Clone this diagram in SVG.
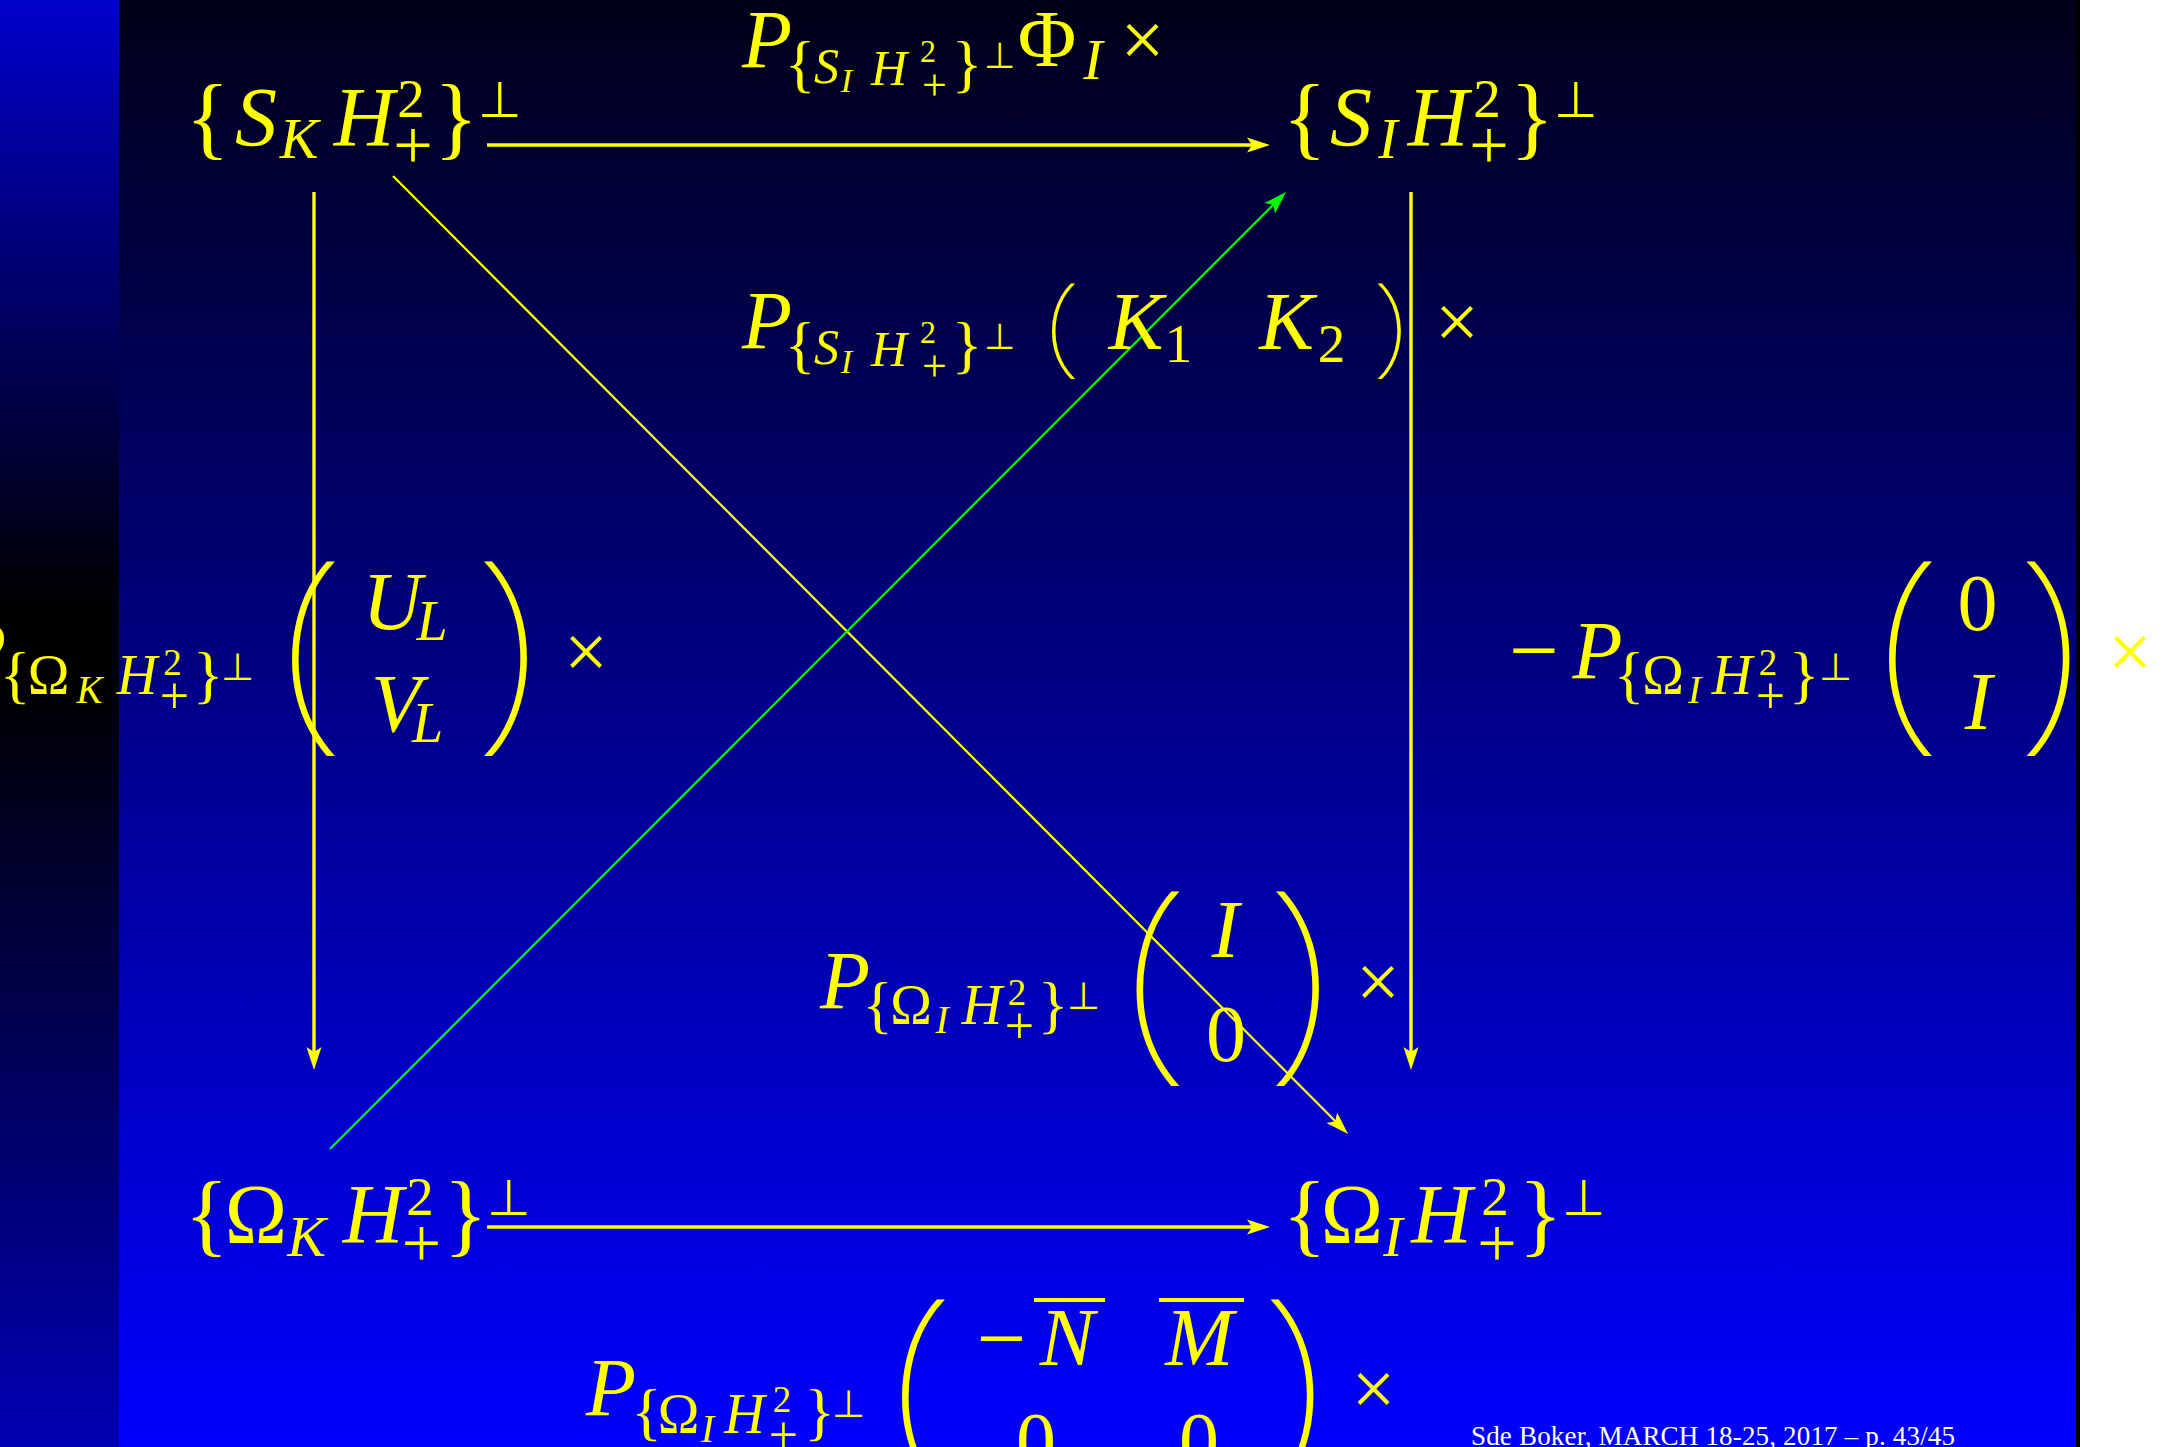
<svg xmlns="http://www.w3.org/2000/svg" width="2172" height="1447" viewBox="0 0 2172 1447">
<defs>
<linearGradient id="gMain" x1="0" y1="0" x2="0" y2="1">
<stop offset="0" stop-color="#000018"/>
<stop offset="1" stop-color="#0000ff"/>
</linearGradient>
<linearGradient id="gStrip" x1="0" y1="0" x2="0" y2="1">
<stop offset="0" stop-color="#0000cc"/>
<stop offset="0.42" stop-color="#000000"/>
<stop offset="0.47" stop-color="#000000"/>
<stop offset="1" stop-color="#0000b4"/>
</linearGradient>
<marker id="ay" viewBox="-16 -9 26 18" markerWidth="26" markerHeight="18" refX="0" refY="0" orient="auto" markerUnits="userSpaceOnUse">
<path d="M8,0 L-15,-7.5 L-10,0 L-15,7.5 Z" fill="#ffff00"/>
</marker>
<marker id="ag" viewBox="-16 -9 26 18" markerWidth="26" markerHeight="18" refX="0" refY="0" orient="auto" markerUnits="userSpaceOnUse">
<path d="M8,0 L-15,-7.5 L-10,0 L-15,7.5 Z" fill="#00ff00"/>
</marker>
<style>
text { text-anchor: middle; fill: #ffff00; font-family: "Liberation Serif", serif; }
.it { font-style: italic; }
.sym { font-family: "DejaVu Sans", sans-serif; font-weight: 200; }
.bp { font-family: "Noto Sans", "Inter", sans-serif; font-weight: 100; font-size: 100px; }
.ln { stroke: #ffff00; stroke-width: 3.4; fill: none; marker-end: url(#ay); }
.dg { stroke: #ffff00; stroke-width: 2.2; fill: none; marker-end: url(#ay); }
.gr { stroke: #00ff00; stroke-width: 2.2; fill: none; marker-end: url(#ag); }
.foot { fill: #ffffff; font-size: 27px; text-anchor: start; }
</style>
</defs>

<g id="background">
<rect x="0" y="0" width="2172" height="1447" fill="#ffffff"/>
<rect x="119" y="0" width="1958" height="1447" fill="url(#gMain)"/>
<rect x="0" y="0" width="119" height="1447" fill="url(#gStrip)"/>
<rect x="2076" y="0" width="4" height="1447" fill="#000000"/>
</g>

<g id="connectors">
<path class="ln" d="M487,145 H1262"/>
<path class="ln" d="M487,1227 H1262"/>
<path class="ln" d="M314,192 V1062"/>
<path class="ln" d="M1411,192 V1062"/>
<path class="dg" d="M393,176 L1342.4,1128.3"/>
<path class="gr" d="M330,1149 L1280.3,197.7"/>
</g>

<g id="node-SK">
<text>
<tspan x="209.5" y="148" font-size="92">{</tspan>
<tspan class="it" x="258" y="146" font-size="84">S</tspan>
<tspan class="it" x="301" y="158" font-size="58">K</tspan>
<tspan class="it" x="366" y="146" font-size="84">H</tspan>
<tspan x="413" y="117" font-size="55">2</tspan>
<tspan x="415" y="169" font-size="70">+</tspan>
<tspan x="458" y="148" font-size="92">}</tspan>
<tspan class="sym" x="500" y="117" font-size="50">⊥</tspan>
</text>
</g>

<g id="node-SI">
<text>
<tspan x="1306.5" y="148" font-size="92">{</tspan>
<tspan class="it" x="1353" y="146" font-size="84">S</tspan>
<tspan class="it" x="1390" y="158" font-size="58">I</tspan>
<tspan class="it" x="1440" y="146" font-size="84">H</tspan>
<tspan x="1489" y="117" font-size="55">2</tspan>
<tspan x="1491" y="169" font-size="70">+</tspan>
<tspan x="1534" y="148" font-size="92">}</tspan>
<tspan class="sym" x="1576" y="117" font-size="50">⊥</tspan>
</text>
</g>

<g id="node-OmegaK">
<text>
<tspan x="208.5" y="1245" font-size="92">{</tspan>
<tspan x="258" y="1243" font-size="84">Ω</tspan>
<tspan class="it" x="308.5" y="1256" font-size="58">K</tspan>
<tspan class="it" x="375" y="1243" font-size="84">H</tspan>
<tspan x="422" y="1215" font-size="55">2</tspan>
<tspan x="423.5" y="1267" font-size="70">+</tspan>
<tspan x="467.5" y="1245" font-size="92">}</tspan>
<tspan class="sym" x="509" y="1215" font-size="50">⊥</tspan>
</text>
</g>

<g id="node-OmegaI">
<text>
<tspan x="1306.5" y="1245" font-size="92">{</tspan>
<tspan x="1354" y="1243" font-size="84">Ω</tspan>
<tspan class="it" x="1395" y="1256" font-size="58">I</tspan>
<tspan class="it" x="1443.5" y="1243" font-size="84">H</tspan>
<tspan x="1497" y="1215" font-size="55">2</tspan>
<tspan x="1499" y="1267" font-size="70">+</tspan>
<tspan x="1542.5" y="1245" font-size="92">}</tspan>
<tspan class="sym" x="1583.5" y="1215" font-size="50">⊥</tspan>
</text>
</g>

<g id="label-top">
<text>
<tspan class="it" x="769" y="67" font-size="82">P</tspan>
<tspan x="802" y="85" font-size="64">{</tspan>
<tspan class="it" x="828.5" y="83" font-size="50">S</tspan>
<tspan class="it" x="848.5" y="92" font-size="34">I</tspan>
<tspan class="it" x="891" y="85" font-size="50">H</tspan>
<tspan x="930" y="62" font-size="32">2</tspan>
<tspan x="936.5" y="100" font-size="44">+</tspan>
<tspan x="969" y="85" font-size="64">}</tspan>
<tspan class="sym" x="1001" y="68" font-size="36">⊥</tspan>
<tspan x="1049" y="66" font-size="80">Φ</tspan>
<tspan class="it" x="1095" y="79" font-size="58">I</tspan>
<tspan x="1142.5" y="66" font-size="78">×</tspan>
</text>
</g>

<g id="label-mid">
<text>
<tspan class="it" x="769" y="348" font-size="82">P</tspan>
<tspan x="802" y="366" font-size="64">{</tspan>
<tspan class="it" x="828.5" y="364" font-size="50">S</tspan>
<tspan class="it" x="848.5" y="373" font-size="34">I</tspan>
<tspan class="it" x="891" y="366" font-size="50">H</tspan>
<tspan x="930" y="343" font-size="32">2</tspan>
<tspan x="936.5" y="381" font-size="44">+</tspan>
<tspan x="969" y="366" font-size="64">}</tspan>
<tspan class="sym" x="1001" y="349" font-size="36">⊥</tspan>
<tspan class="it" x="1138" y="349" font-size="82">K</tspan>
<tspan x="1180.5" y="362" font-size="55">1</tspan>
<tspan class="it" x="1288.5" y="349" font-size="82">K</tspan>
<tspan x="1333.5" y="362" font-size="55">2</tspan>
<tspan x="1457" y="348" font-size="78">×</tspan>
</text>
<text class="bp" transform="translate(1063,332) scale(1.3,1.1)" y="27">(</text>
<text class="bp" transform="translate(1389.5,332) scale(1.3,1.1)" y="27">)</text>
</g>

<g id="label-left">
<text>
<tspan class="it" x="-17" y="678" font-size="82">P</tspan>
<tspan x="17" y="696" font-size="64">{</tspan>
<tspan x="50.5" y="694" font-size="56">Ω</tspan>
<tspan class="it" x="91.5" y="703" font-size="39">K</tspan>
<tspan class="it" x="139" y="694" font-size="56">H</tspan>
<tspan x="174.5" y="675" font-size="37">2</tspan>
<tspan x="176.5" y="713" font-size="52">+</tspan>
<tspan x="210" y="696" font-size="64">}</tspan>
<tspan class="sym" x="239.5" y="680" font-size="38">⊥</tspan>
<tspan class="it" x="394" y="629" font-size="82">U</tspan>
<tspan class="it" x="434" y="640" font-size="56">L</tspan>
<tspan class="it" x="398" y="731" font-size="82">V</tspan>
<tspan class="it" x="429.5" y="742" font-size="56">L</tspan>
<tspan x="586" y="678" font-size="78">×</tspan>
</text>
<text class="bp" transform="translate(312.5,658) scale(2.4,2.22)" y="28.5">(</text>
<text class="bp" transform="translate(506,658) scale(2.4,2.22)" y="28.5">)</text>
</g>

<g id="label-right">
<text>
<tspan x="1536" y="680" font-size="88">−</tspan>
<tspan class="it" x="1599.5" y="678" font-size="82">P</tspan>
<tspan x="1631" y="696" font-size="64">{</tspan>
<tspan x="1665" y="694" font-size="56">Ω</tspan>
<tspan class="it" x="1696.5" y="703" font-size="39">I</tspan>
<tspan class="it" x="1734" y="694" font-size="56">H</tspan>
<tspan x="1770" y="675" font-size="37">2</tspan>
<tspan x="1772.5" y="713" font-size="52">+</tspan>
<tspan x="1806" y="696" font-size="64">}</tspan>
<tspan class="sym" x="1837" y="680" font-size="38">⊥</tspan>
<tspan x="1979.5" y="630" font-size="80">0</tspan>
<tspan class="it" x="1980.5" y="729" font-size="82">I</tspan>
<tspan x="2130" y="678" font-size="78">×</tspan>
</text>
<text class="bp" transform="translate(1909.5,658) scale(2.4,2.22)" y="28.5">(</text>
<text class="bp" transform="translate(2048.5,658) scale(2.4,2.22)" y="28.5">)</text>
</g>

<g id="label-lowmid">
<text>
<tspan class="it" x="847" y="1008" font-size="82">P</tspan>
<tspan x="879.5" y="1026" font-size="64">{</tspan>
<tspan x="913" y="1024" font-size="56">Ω</tspan>
<tspan class="it" x="944" y="1033" font-size="39">I</tspan>
<tspan class="it" x="984" y="1024" font-size="56">H</tspan>
<tspan x="1019" y="1005" font-size="37">2</tspan>
<tspan x="1021.5" y="1043" font-size="52">+</tspan>
<tspan x="1055" y="1026" font-size="64">}</tspan>
<tspan class="sym" x="1085" y="1009" font-size="38">⊥</tspan>
<tspan class="it" x="1227.5" y="957" font-size="82">I</tspan>
<tspan x="1228" y="1061" font-size="80">0</tspan>
<tspan x="1378" y="1008" font-size="78">×</tspan>
</text>
<text class="bp" transform="translate(1157,988) scale(2.4,2.22)" y="28.5">(</text>
<text class="bp" transform="translate(1298,988) scale(2.4,2.22)" y="28.5">)</text>
</g>

<g id="label-bottom">
<text>
<tspan class="it" x="613" y="1415" font-size="82">P</tspan>
<tspan x="648.5" y="1433" font-size="64">{</tspan>
<tspan x="680.5" y="1433" font-size="56">Ω</tspan>
<tspan class="it" x="709.5" y="1442" font-size="39">I</tspan>
<tspan class="it" x="746.5" y="1433" font-size="56">H</tspan>
<tspan x="784" y="1412" font-size="37">2</tspan>
<tspan x="785.5" y="1452" font-size="52">+</tspan>
<tspan x="821.5" y="1433" font-size="64">}</tspan>
<tspan class="sym" x="850" y="1417" font-size="38">⊥</tspan>
<tspan x="1003.5" y="1368" font-size="88">−</tspan>
<tspan class="it" x="1069" y="1365" font-size="82">N</tspan>
<tspan class="it" x="1201.5" y="1365" font-size="82">M</tspan>
<tspan x="1038" y="1468" font-size="80">0</tspan>
<tspan x="1201" y="1468" font-size="80">0</tspan>
<tspan x="1373.5" y="1415" font-size="78">×</tspan>
</text>
<rect x="1034" y="1298" width="71" height="4" fill="#ffff00"/>
<rect x="1159" y="1298" width="85" height="4" fill="#ffff00"/>
<text class="bp" transform="translate(922.5,1396) scale(2.4,2.22)" y="28.5">(</text>
<text class="bp" transform="translate(1292.5,1396) scale(2.4,2.22)" y="28.5">)</text>
</g>

<g id="footer">
<text class="foot" x="1471" y="1445" textLength="484">Sde Boker, MARCH 18-25, 2017 – p. 43/45</text>
</g>
</svg>
